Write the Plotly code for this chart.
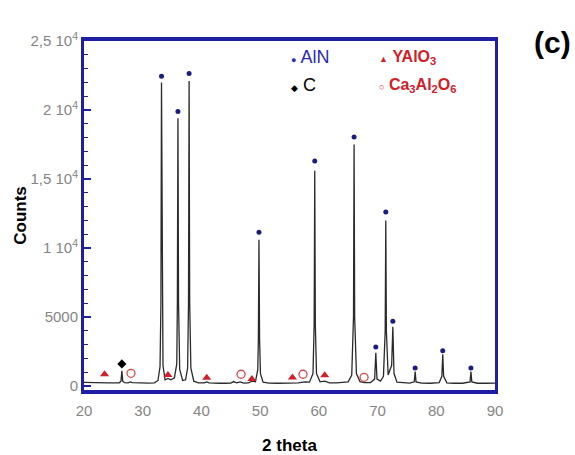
import plotly.graph_objects as go

# ---- XRD profile (2 theta, counts) ----
two_theta = [20.0, 21.0, 22.0, 23.0, 24.0, 25.0, 26.0, 26.3, 26.45, 26.6, 26.9, 27.5, 27.9, 28.2,
             29.0, 30.0, 31.0, 32.0, 32.6, 32.95, 33.1, 33.2, 33.3, 33.45, 33.8, 34.3, 34.8,
             35.4, 35.8, 35.9, 36.0, 36.1, 36.3, 36.8, 37.3, 37.65, 37.8, 37.9, 38.0, 38.2,
             38.7, 39.5, 40.5, 40.9, 41.3, 42.0, 43.0, 44.0, 45.0, 45.5, 46.0, 46.6, 47.2,
             48.0, 48.6, 49.2, 49.6, 49.7, 49.8, 49.9, 50.05, 50.5, 51.5, 53.0, 54.5, 55.5,
             56.5, 57.6, 58.4, 59.0, 59.2, 59.3, 59.4, 59.6, 60.2, 61.0, 61.8, 63.0, 64.0,
             65.0, 65.6, 65.9, 66.0, 66.1, 66.4, 67.0, 67.8, 68.8, 69.5, 69.7, 69.9, 70.5,
             71.0, 71.3, 71.4, 71.5, 71.8, 72.4, 72.6, 72.8, 73.3, 74.5, 75.5, 76.25, 76.4,
             76.55, 77.5, 79.0, 80.5, 80.95, 81.1, 81.25, 81.8, 83.0, 84.5, 85.75, 85.9,
             86.05, 87.0, 88.5, 90.0]
counts = [260, 240, 230, 240, 230, 220, 230, 350, 1100, 350, 240, 230, 300, 240,
          220, 210, 210, 230, 400, 1400, 6000, 22000, 6000, 1500, 450, 550, 450,
          600, 1600, 6000, 19400, 6000, 1200, 400, 450, 1300, 6000, 22100, 6000, 1300,
          350, 230, 220, 300, 220, 200, 200, 200, 210, 320, 230, 300, 210,
          220, 350, 300, 1200, 3500, 10600, 3500, 900, 280, 210, 200, 200, 230,
          220, 300, 280, 900, 4500, 15600, 4500, 900, 300, 350, 230, 220, 260,
          300, 800, 5000, 17500, 5000, 900, 320, 250, 250, 500, 2400, 500, 350,
          700, 4000, 12000, 4000, 800, 1500, 4300, 900, 280, 220, 210, 300, 1050,
          300, 210, 200, 250, 700, 2300, 700, 230, 200, 200, 300, 1050,
          300, 200, 200, 210]

# ---- phase markers ----
aln_x = [33.2, 36.0, 37.9, 49.8, 59.3, 66.0, 69.7, 71.4, 72.6, 76.4, 81.1, 85.9]
aln_y = [22450, 19900, 22650, 11150, 16300, 18050, 2830, 12600, 4700, 1300, 2550, 1300]
c_x = [26.45]
c_y = [1600]
yalo3_x = [23.5, 34.3, 40.9, 48.6, 55.5, 61.0]
yalo3_y = [860, 800, 600, 500, 620, 780]
ca_x = [28.0, 46.75, 57.3, 67.7]
ca_y = [920, 850, 850, 630]

y_tickvals = [0, 5000, 10000, 15000, 20000, 25000]
y_ticktext = ["0", "5000", "1 10<sup>4</sup>", "1,5 10<sup>4</sup>", "2 10<sup>4</sup>", "2,5 10<sup>4</sup>"]
x_tickvals = [20, 30, 40, 50, 60, 70, 80, 90]

BLUE = "#1f1fa6"
RED = "#d0202a"
PINK = "#d24a4a"
GRAY = "#858585"

fig = go.Figure()
fig.add_trace(go.Scatter(x=two_theta, y=counts, mode="lines",
                         line=dict(color="#2a2a2a", width=1.3), showlegend=False))
fig.add_trace(go.Scatter(x=aln_x, y=aln_y, mode="markers",
                         marker=dict(symbol="circle", size=5, color="#1c1c80"), showlegend=False))
fig.add_trace(go.Scatter(x=c_x, y=c_y, mode="markers",
                         marker=dict(symbol="diamond", size=7, color="black"), showlegend=False))
fig.add_trace(go.Scatter(x=yalo3_x, y=yalo3_y, mode="markers",
                         marker=dict(symbol="triangle-up", size=8, color=RED), showlegend=False))
fig.add_trace(go.Scatter(x=ca_x, y=ca_y, mode="markers",
                         marker=dict(symbol="circle-open", size=8, color=PINK, line=dict(width=1.3)),
                         showlegend=False))

font_tick = dict(family="Liberation Sans, Arial, sans-serif", size=15, color=GRAY)

fig.update_layout(
    width=575, height=455,
    margin=dict(l=84, r=80, t=41, b=65),
    paper_bgcolor="white", plot_bgcolor="white",
    font=dict(family="Liberation Sans, Arial, sans-serif"),
    xaxis=dict(range=[20, 90], tickvals=x_tickvals, ticks="inside", ticklen=6, tickwidth=1.5,
               tickcolor="white", showline=True, linecolor=BLUE, linewidth=4, mirror=True,
               showgrid=False, zeroline=False, tickfont=font_tick, ticklabelstandoff=4,
               automargin=False,
               minor=dict(dtick=1, ticks="inside", ticklen=3, tickcolor="white", tickwidth=1.5),
               title=dict(text="<b>2 theta</b>", font=dict(size=17, color="black"), standoff=22)),
    yaxis=dict(range=[-290, 25000], tickvals=y_tickvals, ticktext=y_ticktext, ticks="inside",
               ticklen=7, tickwidth=1.5, tickcolor=BLUE, showline=True, linecolor=BLUE,
               linewidth=3, mirror=True, showgrid=False, zeroline=False, tickfont=font_tick,
               automargin=False,
               minor=dict(dtick=1000, ticks="inside", ticklen=4, tickcolor=BLUE, tickwidth=1.2),
               title=dict(text="<b>Counts</b>", font=dict(size=17, color="black"), standoff=0)),
)

leg_font = dict(family="Liberation Sans, Arial, sans-serif", size=18)
fig.add_annotation(xref="paper", yref="paper", x=(289 - 84) / 411, y=(390 - 57) / 349,
                   xanchor="left", yanchor="middle", showarrow=False,
                   text="<span style='font-size:9px'>●</span> AlN",
                   font=dict(leg_font, color="#2a2ab8"))
fig.add_annotation(xref="paper", yref="paper", x=(377 - 84) / 411, y=(390 - 57) / 349,
                   xanchor="left", yanchor="middle", showarrow=False,
                   text="<span style='font-size:9px'>▲</span> <b>YAlO<sub>3</sub></b>",
                   font=dict(leg_font, size=16, color=RED))
fig.add_annotation(xref="paper", yref="paper", x=(289 - 84) / 411, y=(390 - 85) / 349,
                   xanchor="left", yanchor="middle", showarrow=False,
                   text="<span style='font-size:9px'>◆</span> C",
                   font=dict(leg_font, color="black"))
fig.add_annotation(xref="paper", yref="paper", x=(377 - 84) / 411, y=(390 - 85) / 349,
                   xanchor="left", yanchor="middle", showarrow=False,
                   text="<span style='font-size:9px'>○</span> <b>Ca<sub>3</sub>Al<sub>2</sub>O<sub>6</sub></b>",
                   font=dict(leg_font, size=16, color=RED))
fig.add_annotation(xref="paper", yref="paper", x=(573 - 84) / 411, y=(390 - 42) / 349,
                   xanchor="right", yanchor="middle", showarrow=False,
                   text="<b>(c)</b>", font=dict(family="Liberation Sans, Arial, sans-serif",
                                                size=30, color="black"))

fig.write_html("out.html", config={"displayModeBar": False},
               post_script="document.body.style.margin='0';document.body.style.overflow='hidden';")
